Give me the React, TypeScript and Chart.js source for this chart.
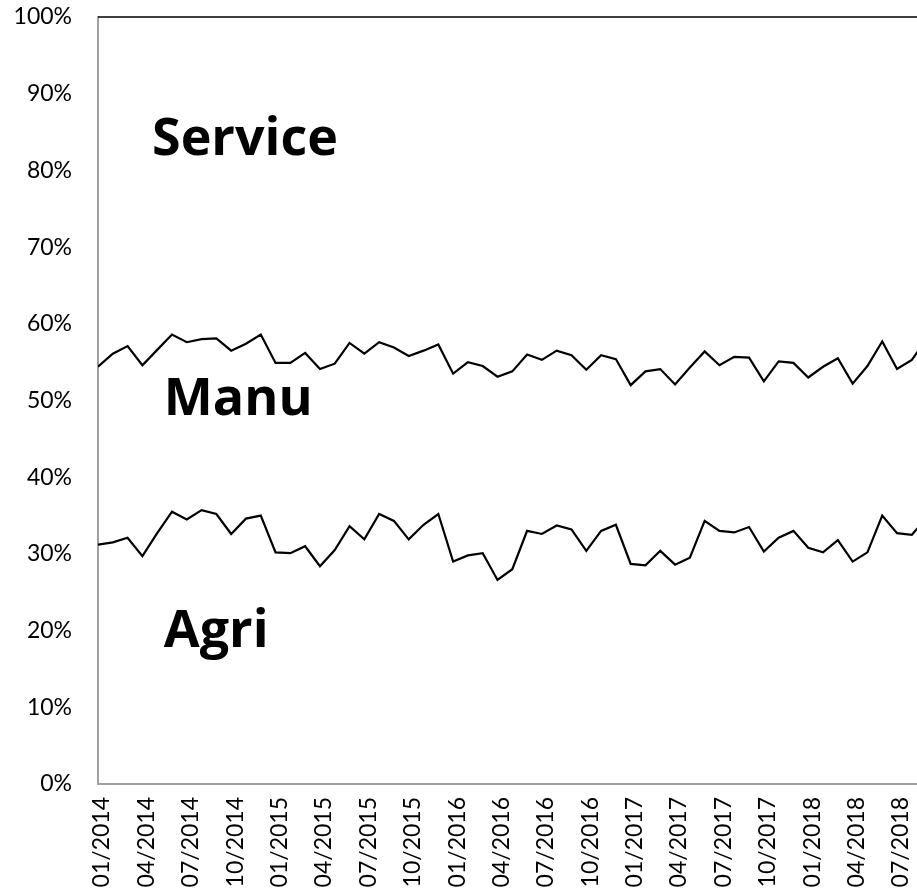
import React, { useEffect, useRef } from "react";
import { Chart, registerables } from "chart.js";

Chart.register(...registerables);

const months = [
  "01/2014","02/2014","03/2014","04/2014","05/2014","06/2014","07/2014","08/2014","09/2014","10/2014","11/2014","12/2014",
  "01/2015","02/2015","03/2015","04/2015","05/2015","06/2015","07/2015","08/2015","09/2015","10/2015","11/2015","12/2015",
  "01/2016","02/2016","03/2016","04/2016","05/2016","06/2016","07/2016","08/2016","09/2016","10/2016","11/2016","12/2016",
  "01/2017","02/2017","03/2017","04/2017","05/2017","06/2017","07/2017","08/2017","09/2017","10/2017","11/2017","12/2017",
  "01/2018","02/2018","03/2018","04/2018","05/2018","06/2018","07/2018","08/2018","09/2018",
];

// Cumulative share: Agri (lower boundary)
const agriShare = [
  31.2, 31.5, 32.1, 29.7, 32.7, 35.5, 34.5, 35.7, 35.2, 32.6,
  34.6, 35.0, 30.2, 30.1, 31.0, 28.4, 30.5, 33.6, 31.9, 35.2,
  34.3, 31.9, 33.8, 35.2, 29.0, 29.8, 30.1, 26.6, 28.0, 33.0,
  32.6, 33.7, 33.2, 30.4, 33.0, 33.8, 28.7, 28.5, 30.4, 28.6,
  29.5, 34.3, 33.0, 32.8, 33.5, 30.3, 32.1, 33.0, 30.8, 30.2,
  31.8, 29.0, 30.2, 35.0, 32.7, 32.5, 34.7,
];

// Cumulative share: Agri + Manu (upper boundary)
const agriManuShare = [
  54.4, 56.1, 57.1, 54.6, 56.6, 58.6, 57.6, 58.0, 58.1, 56.5,
  57.4, 58.6, 54.9, 54.9, 56.2, 54.1, 54.8, 57.5, 56.1, 57.6,
  56.9, 55.8, 56.5, 57.3, 53.5, 55.0, 54.5, 53.1, 53.8, 56.0,
  55.3, 56.5, 55.9, 54.0, 55.9, 55.4, 52.0, 53.8, 54.1, 52.1,
  54.3, 56.4, 54.6, 55.7, 55.6, 52.5, 55.1, 54.9, 53.0, 54.4,
  55.5, 52.2, 54.5, 57.7, 54.1, 55.3, 58.0,
];

const yTicks = [0, 10, 20, 30, 40, 50, 60, 70, 80, 90, 100];

// Region labels (month index, percent value of text baseline)
const regionNames = ["Service", "Manu", "Agri"];
const regionX = [3.65, 4.45, 4.45];
const regionY = [82, 48.1, 17.9];

const visibleMaxIndex = 55.35;

export default function App() {
  const ref = useRef<HTMLCanvasElement | null>(null);

  useEffect(() => {
    if (!ref.current) return;
    const toPts = (arr: number[]) => arr.map((v, i) => ({ x: i, y: v }));

    const extras = {
      id: "extras",
      afterDatasetsDraw(chart: any) {
        const { ctx, chartArea, scales } = chart;
        ctx.save();
        ctx.strokeStyle = "#000000";
        ctx.lineWidth = 1.5;
        ctx.beginPath();
        ctx.moveTo(chartArea.left, chartArea.top);
        ctx.lineTo(chartArea.right, chartArea.top);
        ctx.stroke();
        ctx.fillStyle = "#000000";
        ctx.font = "bold 52px 'Open Sans'";
        ctx.textAlign = "left";
        ctx.textBaseline = "alphabetic";
        regionNames.forEach((n, i) => {
          ctx.fillText(n, scales.x.getPixelForValue(regionX[i]), scales.y.getPixelForValue(regionY[i]));
        });
        ctx.restore();
      },
    };

    const chart = new Chart(ref.current, {
      type: "line",
      data: {
        datasets: [
          {
            label: "Agri+Manu",
            data: toPts(agriManuShare),
            borderColor: "#000000",
            borderWidth: 2.2,
            pointRadius: 0,
            tension: 0,
            fill: false,
          },
          {
            label: "Agri",
            data: toPts(agriShare),
            borderColor: "#000000",
            borderWidth: 2.2,
            pointRadius: 0,
            tension: 0,
            fill: false,
          },
        ],
      },
      options: {
        animation: false,
        responsive: false,
        layout: { padding: { top: 17, left: 0, right: 0, bottom: 0 } },
        plugins: { legend: { display: false }, tooltip: { enabled: false } },
        scales: {
          x: {
            type: "linear",
            min: 0,
            max: visibleMaxIndex,
            grid: { display: false, drawTicks: false },
            border: { display: true, color: "#a0a0a0", width: 2 },
            afterBuildTicks: (scale: any) => {
              scale.ticks = months
                .map((_, i) => i)
                .filter((i) => i % 3 === 0 && i <= visibleMaxIndex)
                .map((i) => ({ value: i }));
            },
            afterFit: (scale: any) => {
              scale.height = 106;
              scale.paddingLeft = 0;
              scale.paddingRight = 0;
            },
            ticks: {
              autoSkip: false,
              minRotation: 90,
              maxRotation: 90,
              padding: 13,
              labelOffset: 4,
              color: "#000000",
              font: { family: "Lato", size: 23 },
              callback: (v: any) => months[Number(v)] ?? "",
            },
          },
          y: {
            min: 0,
            max: 100,
            grid: { display: false, drawTicks: false },
            border: { display: true, color: "#a0a0a0", width: 2 },
            afterBuildTicks: (scale: any) => {
              scale.ticks = yTicks.map((v) => ({ value: v }));
            },
            afterFit: (scale: any) => {
              scale.width = 98;
              scale.paddingTop = 0;
              scale.paddingBottom = 0;
            },
            ticks: {
              padding: 26,
              color: "#000000",
              font: { family: "Lato", size: 23 },
              callback: (v: any) => v + "%",
            },
          },
        },
      },
      plugins: [extras],
    });
    return () => chart.destroy();
  }, []);

  return (
    <div style={{ position: "absolute", left: 0, top: 0, width: 917, height: 890, background: "#ffffff" }}>
      <canvas ref={ref} width={917} height={890} style={{ display: "block" }} />
    </div>
  );
}
